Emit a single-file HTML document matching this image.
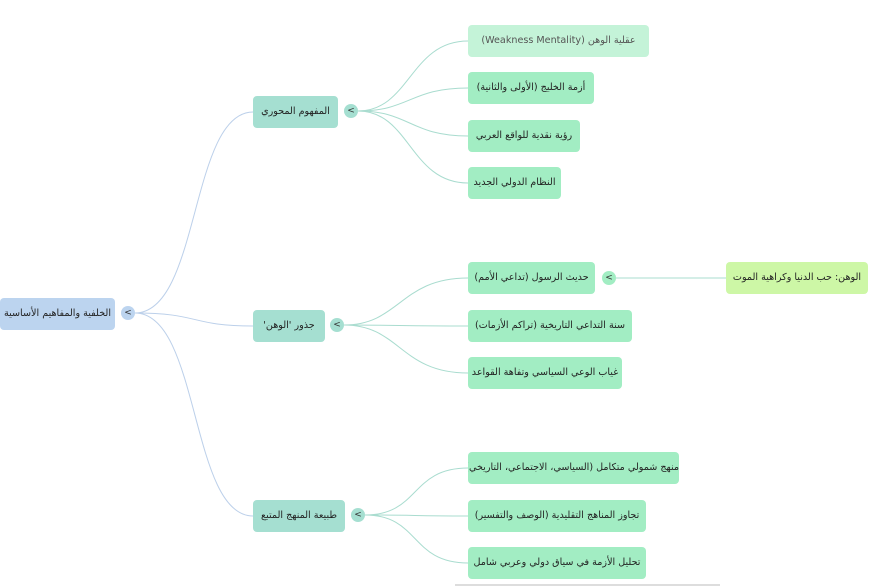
<!DOCTYPE html>
<html><head><meta charset="utf-8"><style>
body{margin:0;width:883px;height:586px;background:#fff;position:relative;overflow:hidden;font-family:"DejaVu Sans","Liberation Sans",sans-serif;}
.n{position:absolute;height:32px;line-height:32px;border-radius:4px;font-size:9.6px;color:#222;text-align:center;direction:rtl;white-space:nowrap;overflow:hidden}
.r{background:#bcd4ef}
.a{background:#a5dfd1}
.b{background:#a2edc3}
.c{position:absolute;width:14px;height:14px;border-radius:7px;font-size:9px;line-height:14px;text-align:center;color:#333}
</style></head><body>
<svg width="883" height="586" style="position:absolute;left:0;top:0" fill="none">
<g stroke="#bcd0ea" stroke-width="1">
<path d="M135,313 C200,313 190,112 253,112"/>
<path d="M135,313 C200,313 190,326 253,326"/>
<path d="M135,313 C200,313 190,516 253,516"/>
</g>
<g stroke="#a9dccf" stroke-width="1">
<path d="M358,111 C410,111 410,41 468,41"/>
<path d="M358,111 C410,111 410,88 468,88"/>
<path d="M358,111 C410,111 410,136 468,136"/>
<path d="M358,111 C410,111 410,183 468,183"/>
<path d="M344,325 C400,325 400,278 468,278"/>
<path d="M344,325 C400,325 400,326 468,326"/>
<path d="M344,325 C400,325 400,373 468,373"/>
<path d="M365,515 C420,515 410,468 468,468"/>
<path d="M365,515 C420,515 410,516 468,516"/>
<path d="M365,515 C420,515 410,563 468,563"/>
<path d="M616,278 L726,278"/>
</g>
<line x1="455" y1="585" x2="720" y2="585" stroke="#bbb" stroke-width="1"/>
</svg>
<div class="n r" style="left:0;top:298px;width:115px">الخلفية والمفاهيم الأساسية</div>
<div class="c" style="left:121px;top:306px;background:#bcd4ef">&lt;</div>
<div class="n a" style="left:253px;top:96px;width:85px">المفهوم المحوري</div>
<div class="c" style="left:344px;top:104px;background:#a5dfd1">&lt;</div>
<div class="n a" style="left:253px;top:310px;width:72px">جذور 'الوهن'</div>
<div class="c" style="left:330px;top:318px;background:#a5dfd1">&lt;</div>
<div class="n a" style="left:253px;top:500px;width:92px">طبيعة المنهج المتبع</div>
<div class="c" style="left:351px;top:508px;background:#a5dfd1">&lt;</div>
<div class="n b" style="left:468px;top:25px;width:181px;background:#c4f3d8;color:#555">عقلية الوهن (Weakness Mentality)</div>
<div class="n b" style="left:468px;top:72px;width:126px">أزمة الخليج (الأولى والثانية)</div>
<div class="n b" style="left:468px;top:120px;width:112px">رؤية نقدية للواقع العربي</div>
<div class="n b" style="left:468px;top:167px;width:93px">النظام الدولي الجديد</div>
<div class="n b" style="left:468px;top:262px;width:127px">حديث الرسول (تداعي الأمم)</div>
<div class="c" style="left:602px;top:271px;background:#a2edc3">&lt;</div>
<div class="n" style="left:726px;top:262px;width:142px;background:#cdf7a6">الوهن: حب الدنيا وكراهية الموت</div>
<div class="n b" style="left:468px;top:310px;width:164px">سنة التداعي التاريخية (تراكم الأزمات)</div>
<div class="n b" style="left:468px;top:357px;width:154px">غياب الوعي السياسي وتفاهة القواعد</div>
<div class="n b" style="left:468px;top:452px;width:211px">منهج شمولي متكامل (السياسي، الاجتماعي، التاريخي)</div>
<div class="n b" style="left:468px;top:500px;width:178px">تجاوز المناهج التقليدية (الوصف والتفسير)</div>
<div class="n b" style="left:468px;top:547px;width:178px">تحليل الأزمة في سياق دولي وعربي شامل</div>
</body></html>
